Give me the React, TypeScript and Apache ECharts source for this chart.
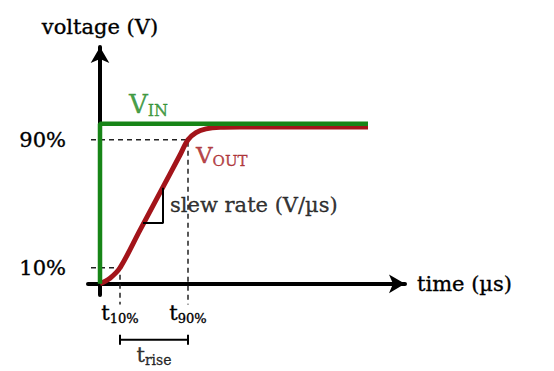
import React, { useEffect, useRef } from "react";
import * as echarts from "echarts";

// ---- data (time in arbitrary µs units, voltage in % of final value) ----
const vinTime = [0, 0, 13.4];
const vinVolt = [0, 100, 100];
const voutTime = [0, 0.5, 1, 2, 3, 4, 4.4, 4.8, 5.3, 6, 7, 9, 13.4];
const voutVolt = [0, 3.5, 10, 33.5, 57, 80.5, 90, 94.5, 96.8, 97.8, 98, 98, 98];
const levelTicks = [10, 90];
const levelLabels = ["10%", "90%"];
const timeTicks = [1, 4.4];
const timeSubs = ["10%", "90%"];
const guideLeft = -0.9;
const guideBottom = -13;
const slewTime = [2.15, 3.15, 3.15];
const slewVolt = [38, 38, 60];
const riseLevel = -35;
const riseCap = 3.1;

const FONT = "DejaVu Serif";
const GREEN = "#178517";
const RED = "#a3141a";
const INK = "#000000";
const FS = 21;

const pairs = (xs: number[], ys: number[]) => xs.map((x, i) => [x, ys[i]]);

const ink = (color: string) => ({ color, textBorderColor: color, textBorderWidth: 0.35 });

export default function App() {
  const ref = useRef<HTMLDivElement>(null);
  useEffect(() => {
    if (!ref.current) return;
    const chart = echarts.init(ref.current, null, { renderer: "svg" });
    const dashed = { color: "#222", width: 1.5, type: [5, 4] as any };
    const guide90 = [
      [guideLeft, levelTicks[1]],
      [timeTicks[1], levelTicks[1]],
      [timeTicks[1], guideBottom],
    ];
    const guide10 = [
      [guideLeft, levelTicks[0]],
      [timeTicks[0], levelTicks[0]],
      [timeTicks[0], guideBottom],
    ];
    const bracket = [
      [timeTicks[0], riseLevel + riseCap],
      [timeTicks[0], riseLevel - riseCap],
      [timeTicks[0], riseLevel],
      [timeTicks[1], riseLevel],
      [timeTicks[1], riseLevel + riseCap],
      [timeTicks[1], riseLevel - riseCap],
    ];
    const tickRich = {
      m: { fontFamily: FONT, fontSize: FS, lineHeight: 24, ...ink(INK) },
      s: { fontFamily: FONT, fontSize: 13, lineHeight: 6, verticalAlign: "bottom", ...ink(INK) },
    };
    const riseRich = {
      m: { fontFamily: FONT, fontSize: FS, lineHeight: 24, ...ink(INK) },
      s: { fontFamily: FONT, fontSize: 14, lineHeight: 10, verticalAlign: "bottom", ...ink(INK) },
    };
    const annot = (
      name: string,
      pt: number[],
      formatter: string,
      rich: any,
      align: string
    ) => ({
      name,
      type: "scatter",
      symbolSize: 0,
      silent: true,
      clip: false,
      z: 10,
      data: [pt],
      label: {
        show: true,
        position: [0, 0],
        align,
        verticalAlign: "middle",
        formatter,
        rich,
      },
    });
    const vRich = (c: string, big: number, small: number, lh: number, slh: number) => ({
      m: { fontFamily: FONT, fontSize: big, lineHeight: lh, ...ink(c) },
      s: { fontFamily: FONT, fontSize: small, lineHeight: slh, verticalAlign: "bottom", ...ink(c) },
    });
    chart.setOption({
      animation: false,
      backgroundColor: "#ffffff",
      grid: { left: 88, right: 149, top: 47, bottom: 76 },
      xAxis: {
        type: "value",
        min: -0.6,
        max: 15.25,
        name: "time (µs)",
        nameLocation: "end",
        nameGap: 12,
        nameTextStyle: { fontFamily: FONT, fontSize: FS, ...ink(INK) },
        axisLine: {
          onZero: true,
          symbol: ["none", "arrow"],
          symbolSize: [14, 16],
          lineStyle: { color: INK, width: 4 },
        },
        axisTick: { show: false },
        splitLine: { show: false },
        axisLabel: {
          show: true,
          customValues: timeTicks,
          margin: 6,
          formatter: (v: number) => {
            const i = timeTicks.findIndex((t) => Math.abs(t - v) < 1e-6);
            return "{m|t}{s|" + (i >= 0 ? timeSubs[i] : "") + "}";
          },
          rich: tickRich,
        },
      },
      yAxis: {
        type: "value",
        min: -7,
        max: 148,
        name: "voltage (V)",
        nameLocation: "end",
        nameGap: 10,
        nameTextStyle: { fontFamily: FONT, fontSize: FS, align: "center", ...ink(INK) },
        axisLine: {
          onZero: true,
          symbol: ["none", "arrow"],
          symbolSize: [14, 16],
          lineStyle: { color: INK, width: 4 },
        },
        axisTick: { show: false },
        splitLine: { show: false },
        axisLabel: {
          show: true,
          customValues: levelTicks,
          margin: 22,
          fontFamily: FONT,
          fontSize: FS,
          ...ink(INK),
          formatter: (v: number) => {
            const i = levelTicks.indexOf(v);
            return i >= 0 ? levelLabels[i] : "";
          },
        },
      },
      series: [
        {
          name: "guide90",
          type: "line",
          clip: false,
          symbol: "none",
          silent: true,
          z: 1,
          lineStyle: dashed,
          data: guide90,
        },
        {
          name: "guide10",
          type: "line",
          clip: false,
          symbol: "none",
          silent: true,
          z: 1,
          lineStyle: dashed,
          data: guide10,
        },
        {
          name: "VOUT",
          type: "line",
          clip: false,
          symbol: "none",
          smooth: 0.35,
          z: 3,
          lineStyle: { color: RED, width: 5 },
          data: pairs(voutTime, voutVolt),
        },
        {
          name: "VIN",
          type: "line",
          clip: false,
          symbol: "none",
          z: 4,
          lineStyle: { color: GREEN, width: 4.5 },
          data: pairs(vinTime, vinVolt),
        },
        {
          name: "slew",
          type: "line",
          clip: false,
          symbol: "none",
          z: 5,
          lineStyle: { color: INK, width: 2 },
          data: pairs(slewTime, slewVolt),
        },
        {
          name: "rise",
          type: "line",
          clip: false,
          symbol: "none",
          z: 5,
          lineStyle: { color: INK, width: 2 },
          data: bracket,
        },
        annot("VINlabel", [1.45, 112.5], "{m|V}{s|IN}", vRich(GREEN, 26, 16, 30, 14), "left"),
        annot("VOUTlabel", [4.8, 80.5], "{m|V}{s|OUT}", vRich(RED, 23, 15, 26, 12), "left"),
        annot(
          "slewLabel",
          [3.5, 49.4],
          "{m|slew rate (V/µs)}",
          { m: { fontFamily: FONT, fontSize: FS, lineHeight: 24, ...ink(INK) } },
          "left"
        ),
        annot(
          "riseLabel",
          [(timeTicks[0] + timeTicks[1]) / 2, -44.6],
          "{m|t}{s|rise}",
          riseRich,
          "center"
        ),
      ],
    });
    return () => chart.dispose();
  }, []);
  return (
    <div
      ref={ref}
      style={{ position: "absolute", left: 0, top: 0, width: 554, height: 371, background: "#fff" }}
    />
  );
}
